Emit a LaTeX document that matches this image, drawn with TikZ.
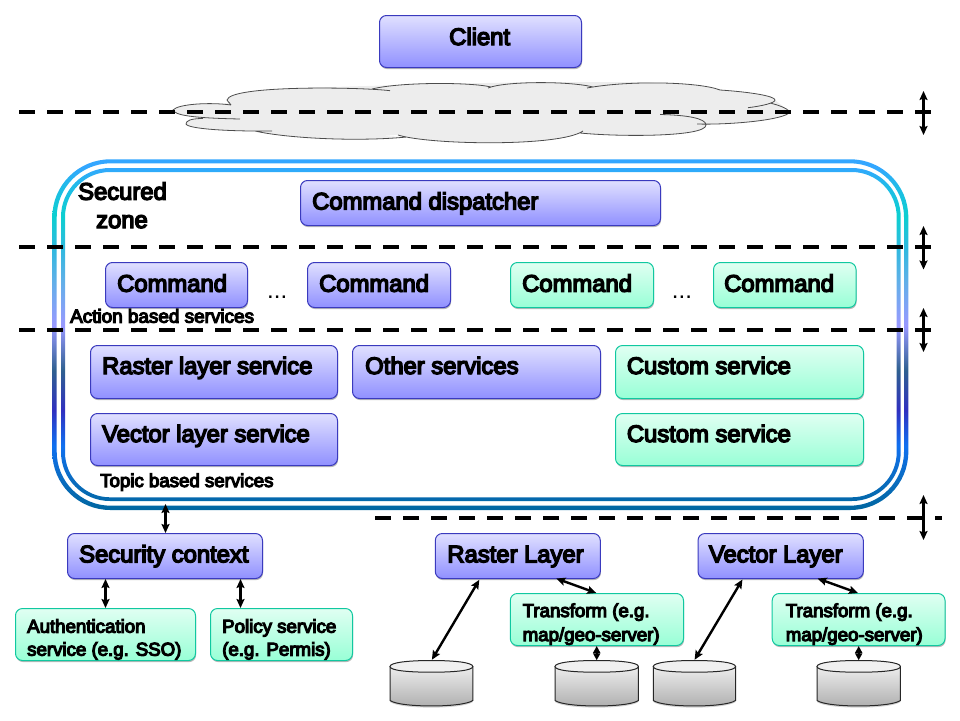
\documentclass[tikz,border=0pt]{standalone}
\usepackage{fontspec}
\setmainfont{Liberation Sans}
\newfontfamily\labfont[FakeBold=6]{Liberation Sans}
\usetikzlibrary{arrows.meta,shadows,calc}
\definecolor{zA}{HTML}{0066A0}
\definecolor{zB}{HTML}{0A6CC0}
\definecolor{zC}{HTML}{1070F0}
\definecolor{zD}{HTML}{3030C0}
\definecolor{zE}{HTML}{2F6090}
\definecolor{zF}{HTML}{9999FF}
\definecolor{zG}{HTML}{60B0E8}
\definecolor{zH}{HTML}{33B8E0}
\definecolor{zI}{HTML}{0CCFD0}
\definecolor{zJ}{HTML}{20BBE8}
\definecolor{zK}{HTML}{33A6FF}
\definecolor{cloudgray}{HTML}{EDEDED}
\definecolor{blueedge}{HTML}{3A3ABE}
\definecolor{bluetop}{HTML}{E0E0FF}
\definecolor{bluebot}{HTML}{9090FF}
\definecolor{tealedge}{HTML}{10C8A0}
\definecolor{tealtop}{HTML}{E0FFF2}
\definecolor{tealbot}{HTML}{98FFD6}
\pgfdeclareverticalshading{zone}{100bp}{
  color(0bp)=(zA); color(25bp)=(zA); color(29.3bp)=(zB); color(34.2bp)=(zC);
  color(39.2bp)=(zD); color(44.9bp)=(zE); color(51.3bp)=(zF); color(57.7bp)=(zG);
  color(61.9bp)=(zH); color(66.9bp)=(zI); color(71.2bp)=(zJ); color(74bp)=(zK); color(100bp)=(zK)}
\tikzset{
  boxbase/.style={rectangle,rounded corners=7pt,line width=1pt,inner sep=0pt,
    drop shadow={shadow xshift=0.6pt,shadow yshift=-1.6pt,opacity=.28,fill=black}},
  bluebox/.style={boxbase,draw=blueedge,top color=bluetop,bottom color=bluebot},
  tealbox/.style={boxbase,draw=tealedge,top color=tealtop,bottom color=tealbot},
  lab/.style={anchor=base west,inner sep=0pt,font=\fontsize{23.8}{24}\labfont},
  smalllab/.style={anchor=base west,inner sep=0pt,font=\fontsize{18.67}{18.67}\labfont},
  actionlab/.style={anchor=base west,inner sep=0pt,font=\fontsize{18.9}{19}\labfont},
  dotslab/.style={anchor=base west,inner sep=0pt,font=\fontsize{24}{24}\selectfont},
  zonedash/.style={line width=3.8pt,dash pattern=on 16pt off 12pt,black},
  dbl/.style={line width=2.4pt,black,{Stealth[length=9pt,width=8pt,inset=1.5pt]}-{Stealth[length=9pt,width=8pt,inset=1.5pt]}},
  dblshort/.style={line width=2pt,black,{Stealth[length=7pt,width=7pt,inset=0pt]}-{Stealth[length=7pt,width=7pt,inset=0pt]}},
  cloudline/.style={line width=0.8pt,draw=black!70,fill=cloudgray},
  cylbody/.style={draw=black!85,line width=1pt,top color=black!7,bottom color=black!32},
  cyltop/.style={draw=black!85,line width=1pt,fill=black!6}
}
\newcommand{\bx}[6]{\node[#6,minimum width=#4pt-#2pt,minimum height=#5pt-#3pt] (#1) at ({(#2+#4)/2},{(#3+#5)/2}) {};}
\newcommand{\cyl}[3]{%
  \node[inner sep=0pt,minimum width=#3pt-#2pt,minimum height=45.5pt] (#1) at ({(#2+#3)/2},683.2) {};
  \fill[black,opacity=.18] (#2,668) -- (#2,702) .. controls (#2+10,709.5) and (#3-10,709.5) .. (#3,702) -- (#3,668) -- cycle;
  \shade[cylbody] (#2,666.5) -- (#2,700.5) .. controls (#2+10,707.8) and (#3-10,707.8) .. (#3,700.5) -- (#3,666.5) -- cycle;
  \draw[cyltop] ({(#2+#3)/2},660.5) .. controls (#3-18,660.5) and (#3,662.5) .. (#3,666.5) .. controls (#3,670.5) and (#3-18,672.2) .. ({(#2+#3)/2},672.2) .. controls (#2+18,672.2) and (#2,670.5) .. (#2,666.5) .. controls (#2,662.5) and (#2+18,660.5) .. cycle;
}
\begin{document}
\begin{tikzpicture}[x=1pt,y=-1pt]
\useasboundingbox (0,0) rectangle (960,720);
% secured zone double frame
\shade[shading=zone,even odd rule]
  [rounded corners=58pt] (52.3,159.3) rectangle (908.3,510)
  [rounded corners=54pt] (56.7,163.3) rectangle (904,505.7)
  [rounded corners=49pt] (61,168) rectangle (900.7,501)
  [rounded corners=45pt] (65,172) rectangle (896.7,497.3);
\coordinate (zonebottom) at (165.5,504);
% cloud
\fill[cloudgray] (173,110) -- (230,103) -- (300,88) -- (433,84) -- (540,82) -- (647,82) -- (720,90) -- (775,100) -- (790,112) -- (697,124) -- (706,125) -- (580,133) -- (490,143) -- (398,135) -- (333,139) -- (255,131) -- (186,124) -- (200,119) -- cycle;
\path[cloudline]
  (231,105) .. controls (210,102) and (178,104) .. (173,110)
     .. controls (175,115) and (190,118) .. (240,119)
  (203,118.5) .. controls (190,118.5) and (186,121) .. (186,124)
     .. controls (188,129) and (230,131.5) .. (272,131)
  (255,131) .. controls (285,138) and (355,142) .. (407,137)
  (398,135) .. controls (430,145) and (560,147) .. (583,131)
  (580,133) .. controls (620,137) and (706,137) .. (706,125)
     .. controls (706,118) and (685,115) .. (660,114.5)
  (697,124) .. controls (730,125) and (785,120) .. (790,112)
     .. controls (787,108) and (778,105) .. (770,103)
  (748,107.7) .. controls (762,106) and (775,103) .. (775,100)
     .. controls (775,96) and (750,92) .. (720,90)
  (720,90) .. controls (700,82) and (630,80) .. (587,88)
  (593,87) .. controls (570,81) and (505,81) .. (488,88)
  (491,87) .. controls (470,82) and (400,82) .. (372,89)
  (390,90.7) .. controls (360,87) and (230,85) .. (227,100)
     .. controls (227,101) and (229,102) .. (231,105);
% boxes
\bx{client}{379.5}{15.5}{581.5}{67.5}{bluebox}
\bx{dispatch}{300.5}{180.5}{660.5}{225.5}{bluebox}
\bx{cmdA}{105.5}{262.5}{247.5}{307.5}{bluebox}
\bx{cmdB}{307.5}{262.5}{450.5}{307.5}{bluebox}
\bx{cmdC}{510.5}{262.5}{653.5}{307.5}{tealbox}
\bx{cmdD}{713.5}{262.5}{856}{307.5}{tealbox}
\bx{rastersvc}{90.5}{345.5}{337.5}{398.5}{bluebox}
\bx{othersvc}{352.5}{345.5}{600.5}{398.5}{bluebox}
\bx{customA}{615.5}{345.5}{863.5}{398.5}{tealbox}
\bx{vectorsvc}{90.5}{413.5}{337.5}{465.5}{bluebox}
\bx{customB}{615.5}{413.5}{863.5}{465.5}{tealbox}
\bx{security}{67.5}{533.5}{262.5}{578.5}{bluebox}
\bx{auth}{15.5}{608.5}{195.5}{660.5}{tealbox}
\bx{policy}{210.5}{608.5}{352.5}{660.5}{tealbox}
\bx{rlayer}{435.3}{533.5}{600.3}{578.5}{bluebox}
\bx{vlayer}{698}{533.5}{863.3}{578.5}{bluebox}
\bx{transA}{510.3}{593.5}{683.5}{645.5}{tealbox}
\bx{transB}{772.2}{593.5}{945}{645.5}{tealbox}
\cyl{dbA}{390}{472.8}
\cyl{dbB}{555}{638.4}
\cyl{dbC}{653.3}{735.5}
\cyl{dbD}{817}{900.4}
% labels
\node[lab] (tclient) at (449,45) {Client};
\node[lab] (tdispatch) at (312,209.5) {Command dispatcher};
\node[lab,anchor=base] (tsecured) at (122.5,199.7) {Secured};
\node[lab,anchor=base] (tzone) at (122,228) {zone};
\node[lab] (tcmdA) at (117,291.7) {Command};
\node[lab] (tcmdB) at (319,291.7) {Command};
\node[lab] (tcmdC) at (522,291.7) {Command};
\node[lab] (tcmdD) at (724,291.7) {Command};
\node[dotslab] (dotsA) at (267,298) {...};
\node[dotslab] (dotsB) at (671.7,298) {...};
\node[actionlab] (taction) at (70,322.7) {Action based services};
\node[lab] (trastersvc) at (102,374) {Raster layer service};
\node[lab] (tothersvc) at (365,374) {Other services};
\node[lab] (tcustomA) at (626.7,374) {Custom service};
\node[lab] (tvectorsvc) at (102,442) {Vector layer service};
\node[lab] (tcustomB) at (626.7,442) {Custom service};
\node[smalllab] (ttopic) at (100,487) {Topic based services};
\node[lab] (tsecurity) at (79,562.3) {Security context};
\node[lab] (trlayer) at (447.2,562.3) {Raster Layer};
\node[lab] (tvlayer) at (708.8,562.3) {Vector Layer};
\node[smalllab] (tauthA) at (27,632.7) {Authentication};
\node[smalllab] (tauthB) at (27,655.7) {service (e.g. SSO)};
\node[smalllab] (tpolA) at (222,632.7) {Policy service};
\node[smalllab] (tpolB) at (222,655.7) {(e.g. Permis)};
\node[smalllab] (ttrAa) at (522.5,617) {Transform (e.g.};
\node[smalllab] (ttrAb) at (522.5,641) {map/geo-server)};
\node[smalllab] (ttrBa) at (785.6,617) {Transform (e.g.};
\node[smalllab] (ttrBb) at (785.6,641) {map/geo-server)};
% dashed tier lines
\coordinate (dashAl) at (19,112); \coordinate (dashAr) at (931,112);
\coordinate (dashBl) at (19,247); \coordinate (dashBr) at (931,247);
\coordinate (dashCl) at (19,330); \coordinate (dashCr) at (931,330);
\coordinate (dashDl) at (375,517.7); \coordinate (dashDr) at (942,517.7);
\draw[zonedash] (dashAl) -- (dashAr);
\draw[zonedash] (dashBl) -- (dashBr);
\draw[zonedash] (dashCl) -- (dashCr);
\draw[zonedash] (dashDl) -- (dashDr);
% tier arrows
\coordinate (tierAa) at (923.5,91); \coordinate (tierAb) at (923.5,135);
\coordinate (tierBa) at (923.5,226); \coordinate (tierBb) at (923.5,269.5);
\coordinate (tierCa) at (923.5,308); \coordinate (tierCb) at (923.5,352);
\coordinate (tierDa) at (923.5,495); \coordinate (tierDb) at (923.5,540);
\draw[dbl] (tierAa) -- (tierAb);
\draw[dbl] (tierBa) -- (tierBb);
\draw[dbl] (tierCa) -- (tierCb);
\draw[dbl] (tierDa) -- (tierDb);
% connectors
\coordinate (polyin) at (240.5,608);
\draw[dbl] (zonebottom) -- (zonebottom |- security.north);
\draw[dbl] (security.south -| auth.north) -- (auth.north);
\draw[dbl] (security.south -| polyin) -- (polyin);
\draw[dbl] ($(rlayer.south)+(-38.5,0.8)$) -- ($(dbA.north)+(0.5,-0.5)$);
\draw[dbl] ($(rlayer.south)+(38.5,-0.5)$) -- ($(transA.north)+(-0.6,0)$);
\draw[dblshort] (transA.south -| dbB.north) -- (dbB.north);
\draw[dbl] ($(vlayer.south)+(-38.2,0.5)$) -- ($(dbC.north)+(0.2,-0.5)$);
\draw[dbl] ($(vlayer.south)+(37,-0.5)$) -- ($(transB.north)+(-0.7,0)$);
\draw[dblshort] (transB.south -| dbD.north) -- (dbD.north);
\end{tikzpicture}
\end{document}
